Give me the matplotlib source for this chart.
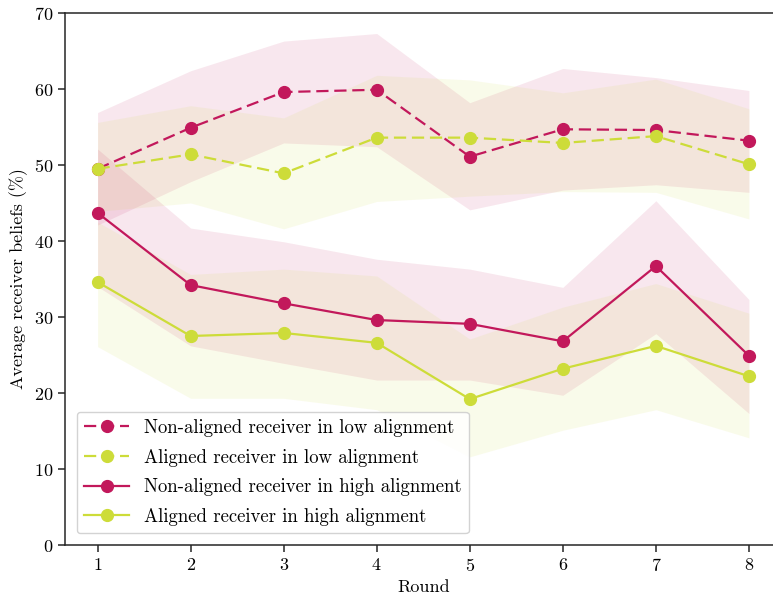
import matplotlib
matplotlib.use("Agg")
import matplotlib.pyplot as plt
import numpy as np

plt.rcParams["font.family"] = "serif"
plt.rcParams["font.serif"] = ["cmr10"]
plt.rcParams["mathtext.fontset"] = "cm"
plt.rcParams["axes.formatter.use_mathtext"] = True
plt.rcParams["axes.unicode_minus"] = False

rounds = [1, 2, 3, 4, 5, 6, 7, 8]

# mean beliefs (%) per round
nonaligned_low = [49.5, 54.9, 59.6, 59.9, 51.1, 54.7, 54.6, 53.2]
aligned_low = [49.5, 51.4, 48.9, 53.6, 53.6, 52.9, 53.8, 50.1]
nonaligned_high = [43.7, 34.2, 31.8, 29.6, 29.1, 26.8, 36.7, 24.9]
aligned_high = [34.6, 27.5, 27.9, 26.6, 19.2, 23.2, 26.2, 22.2]

# confidence band bounds (%)
nonaligned_low_lo = [42.1, 47.8, 52.9, 52.4, 44.1, 46.7, 47.4, 46.4]
nonaligned_low_hi = [56.9, 62.4, 66.3, 67.3, 58.2, 62.7, 61.5, 59.8]
aligned_low_lo = [43.9, 45.0, 41.6, 45.2, 45.9, 46.5, 46.4, 42.9]
aligned_low_hi = [55.6, 57.8, 56.2, 61.8, 61.2, 59.5, 61.3, 57.4]
nonaligned_high_lo = [34.0, 26.2, 23.9, 21.7, 21.7, 19.7, 27.8, 17.3]
nonaligned_high_hi = [52.1, 41.7, 39.9, 37.6, 36.3, 33.9, 45.3, 32.3]
aligned_high_lo = [26.1, 19.3, 19.3, 17.8, 11.6, 15.1, 17.8, 14.1]
aligned_high_hi = [42.5, 35.6, 36.3, 35.4, 27.1, 31.3, 34.4, 30.5]

labels = [
    "Non-aligned receiver in low alignment",
    "Aligned receiver in low alignment",
    "Non-aligned receiver in high alignment",
    "Aligned receiver in high alignment",
]

magenta = "#C2185B"
lime = "#CDDC39"

W, H = 773, 598
fig = plt.figure(figsize=(W / 100, H / 100), dpi=100)
x0, x1 = 65, 781.5
y0, y1 = 545, 13
ax = fig.add_axes([x0 / W, 1 - y0 / H, (x1 - x0) / W, (y0 - y1) / H])

series = [
    (nonaligned_low, nonaligned_low_lo, nonaligned_low_hi, magenta, "--"),
    (aligned_low, aligned_low_lo, aligned_low_hi, lime, "--"),
    (nonaligned_high, nonaligned_high_lo, nonaligned_high_hi, magenta, "-"),
    (aligned_high, aligned_high_lo, aligned_high_hi, lime, "-"),
]

for (mean, lo, hi, col, ls), lab in zip(series, labels):
    ax.fill_between(rounds, lo, hi, color=col, alpha=0.1, linewidth=0)
    kw = dict(dashes=(5.5, 2.6)) if ls == "--" else {}
    ax.plot(rounds, mean, ls, color=col, marker="o", markersize=8.5,
            linewidth=1.6, label=lab, **kw)

ax.set_xlim(0.65, 8.35)
ax.set_ylim(0, 70)
ax.set_xticks(rounds)
ax.set_yticks(np.arange(0, 71, 10))
ax.set_xlabel("Round", fontsize=13)
ax.set_ylabel("Average receiver beliefs (%)", fontsize=13)
ax.tick_params(labelsize=13, direction="out", length=5, width=1.1, color="#262626")
for s in ax.spines.values():
    s.set_linewidth(1.1)
    s.set_color("#262626")

ax.legend(loc="lower left", fontsize=13.5, handlelength=2.4, frameon=True,
          edgecolor="0.8", framealpha=0.85, borderaxespad=0.62,
          labelspacing=0.62)

fig.savefig("out.png", dpi=100)
